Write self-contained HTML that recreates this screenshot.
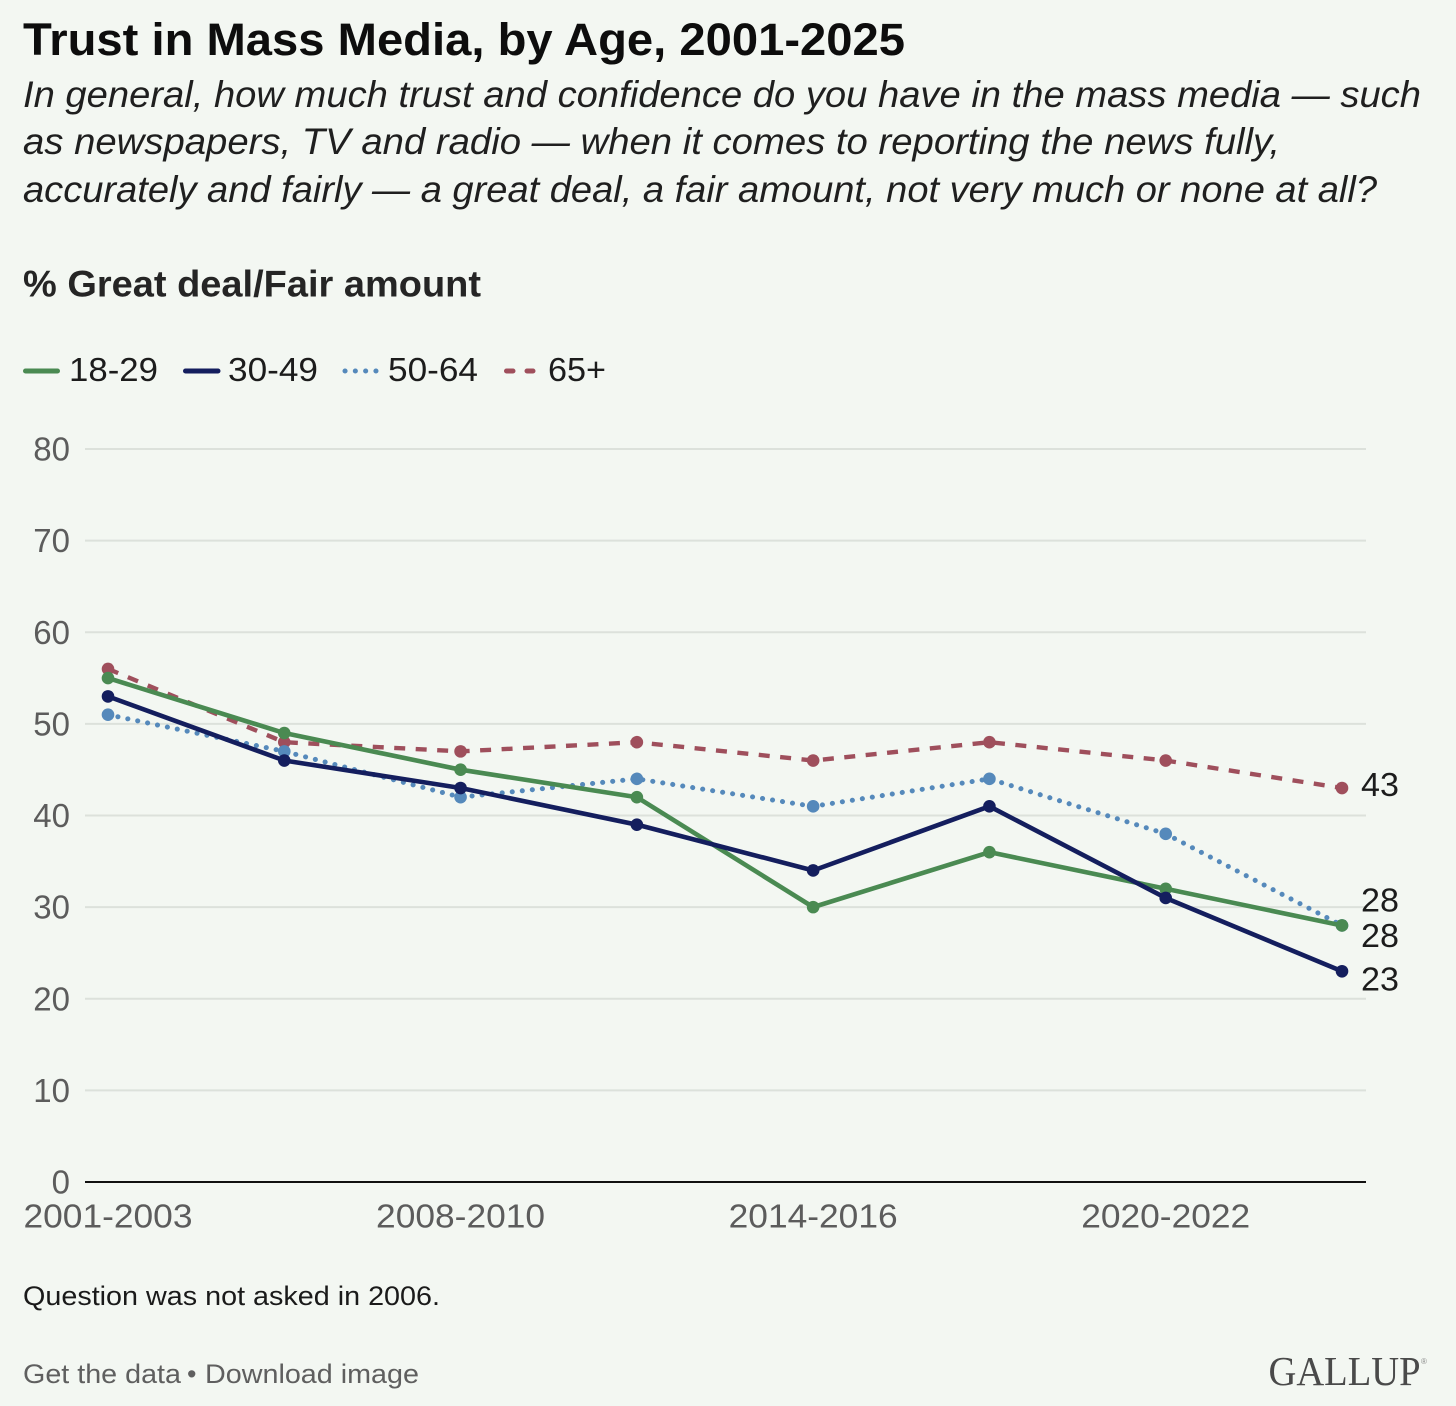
<!DOCTYPE html>
<html lang="en">
<head>
<meta charset="utf-8">
<title>Trust in Mass Media, by Age, 2001-2025</title>
<style>
html,body{margin:0;padding:0;background:#f3f7f2;}
svg{display:block;font-family:"Liberation Sans",sans-serif;}
</style>
</head>
<body>
<svg id="chart" xmlns="http://www.w3.org/2000/svg" width="1456" height="1406" viewBox="0 0 1456 1406">
  <rect x="0" y="0" width="1456" height="1406" fill="#f3f7f2"/>
  <text x="23" y="55" font-size="45" font-weight="700" fill="#0d0d0d" textLength="882" lengthAdjust="spacingAndGlyphs">Trust in Mass Media, by Age, 2001-2025</text>
  <text x="23" y="107" font-size="37" font-style="italic" fill="#1f1f1f" textLength="1398" lengthAdjust="spacingAndGlyphs">In general, how much trust and confidence do you have in the mass media — such</text>
  <text x="23" y="154" font-size="37" font-style="italic" fill="#1f1f1f" textLength="1257" lengthAdjust="spacingAndGlyphs">as newspapers, TV and radio — when it comes to reporting the news fully,</text>
  <text x="23" y="202" font-size="37" font-style="italic" fill="#1f1f1f" textLength="1354" lengthAdjust="spacingAndGlyphs">accurately and fairly — a great deal, a fair amount, not very much or none at all?</text>
  <text x="23" y="296.500" font-size="37" font-weight="700" fill="#252525" textLength="458" lengthAdjust="spacingAndGlyphs">% Great deal/Fair amount</text>

  <g>
    <line x1="25.500" y1="371" x2="57.500" y2="371" stroke="#4a8a52" stroke-width="5" stroke-linecap="round"/>
    <text x="69" y="381" font-size="33" fill="#1c1c1c" textLength="89" lengthAdjust="spacingAndGlyphs">18-29</text>
    <line x1="185.500" y1="371" x2="218" y2="371" stroke="#141e5e" stroke-width="5" stroke-linecap="round"/>
    <text x="228" y="381" font-size="33" fill="#1c1c1c" textLength="90" lengthAdjust="spacingAndGlyphs">30-49</text>
    <line x1="345" y1="371" x2="377" y2="371" stroke="#5589bb" stroke-width="5" stroke-linecap="round" stroke-dasharray="0.1 10.2"/>
    <text x="388" y="381" font-size="33" fill="#1c1c1c" textLength="90" lengthAdjust="spacingAndGlyphs">50-64</text>
    <line x1="506.500" y1="371" x2="533" y2="371" stroke="#9f4f5c" stroke-width="5" stroke-linecap="round" stroke-dasharray="6.500 14"/>
    <text x="548" y="381" font-size="33" fill="#1c1c1c" textLength="58" lengthAdjust="spacingAndGlyphs">65+</text>
  </g>

  <g id="grid"></g>
  <g id="yticks"></g>
  <g id="xticks"></g>
  <g id="series"></g>
  <g id="endlabels"></g>

  <text x="23" y="1305" font-size="27" fill="#1a1a1a" textLength="417" lengthAdjust="spacingAndGlyphs">Question was not asked in 2006.</text>
  <text x="23" y="1383" font-size="27" fill="#5f5f5f" textLength="158" lengthAdjust="spacingAndGlyphs">Get the data</text>
  <text x="187" y="1383" font-size="27" fill="#5f5f5f">•</text>
  <text x="205" y="1383" font-size="27" fill="#5f5f5f" textLength="214" lengthAdjust="spacingAndGlyphs">Download image</text>
  <text x="1268.500" y="1385" font-size="41" fill="#4a4a4a" style="font-family:'Liberation Serif',serif" textLength="152" lengthAdjust="spacingAndGlyphs">GALLUP</text>
  <text x="1421" y="1364" font-size="8" fill="#8a8a8a">®</text>
</svg>
<script>
var categories = ["2001-2003","2004-2007","2008-2010","2011-2013","2014-2016","2017-2019","2020-2022","2023-2025"];
var xTickLabels = ["2001-2003","2008-2010","2014-2016","2020-2022"];
var yTickLabels = [0,10,20,30,40,50,60,70,80];
var seriesNames = ["65+","50-64","18-29","30-49"];
var values65Plus = [56,48,47,48,46,48,46,43];
var values50to64 = [51,47,42,44,41,44,38,28];
var values18to29 = [55,49,45,42,30,36,32,28];
var values30to49 = [53,46,43,39,34,41,31,23];

var NS = "http://www.w3.org/2000/svg";
function xScale(i){ return 108 + (1342 - 108) * i / (categories.length - 1); }
function yScale(v){ return 1182 - (1182 - 449) * v / 80; }
function make(tag, attrs, parent){
  var el = document.createElementNS(NS, tag);
  for (var k in attrs) el.setAttribute(k, attrs[k]);
  parent.appendChild(el);
  return el;
}
var grid = document.getElementById("grid");
var yticks = document.getElementById("yticks");
var xticks = document.getElementById("xticks");
var seriesGroup = document.getElementById("series");
var endGroup = document.getElementById("endlabels");

yTickLabels.forEach(function(t){
  var line = make("line", {x1:85, x2:1366, y1:yScale(t), y2:yScale(t), stroke: t === 0 ? "#111111" : "#dce1db", "stroke-width": 2}, grid);
  
  
  var label = make("text", {x:70, y:yScale(t) + 11.5, "text-anchor":"end", "font-size":33, fill:"#5c5c5c"}, yticks);
  
  
  label.textContent = t;
});

xTickLabels.forEach(function(t){
  var idx = categories.indexOf(t);
  var label = make("text", {x:xScale(idx), y:1227.5, "text-anchor":"middle", "font-size":33, fill:"#5c5c5c", textLength:169, lengthAdjust:"spacingAndGlyphs"}, xticks);
  
  
  label.textContent = t;
});

var seriesValues = [values65Plus, values50to64, values18to29, values30to49];
var seriesColors = ["#9f4f5c","#5589bb","#4a8a52","#141e5e"];
var seriesDash = ["11 10.5","0.1 10","",""];
var seriesWidth = [4.4,5,4.6,4.6];
var endOffsets = [8,-14,21.5,19];

seriesValues.forEach(function(vals, s){
  var pts = vals.map(function(v,i){ return xScale(i) + "," + yScale(v); }).join(" ");
  var attrs = {points:pts, fill:"none", stroke:seriesColors[s], "stroke-width":seriesWidth[s], "stroke-linejoin":"round"};
  if (seriesDash[s]) { attrs["stroke-dasharray"] = seriesDash[s]; }
  if (s === 1) { attrs["stroke-linecap"] = "round"; }
  var line = make("polyline", attrs, seriesGroup);
  
  
  vals.forEach(function(v,i){
    var dot = make("circle", {cx:xScale(i), cy:yScale(v), r:6.3, fill:seriesColors[s]}, seriesGroup);
    
    
  });
  var last = vals[vals.length - 1];
  var label = make("text", {x:1361, y:yScale(last) + endOffsets[s], "font-size":33, fill:"#1c1c1c", textLength:38, lengthAdjust:"spacingAndGlyphs"}, endGroup);
  
  
  label.textContent = last;
});
</script>
</body>
</html>
